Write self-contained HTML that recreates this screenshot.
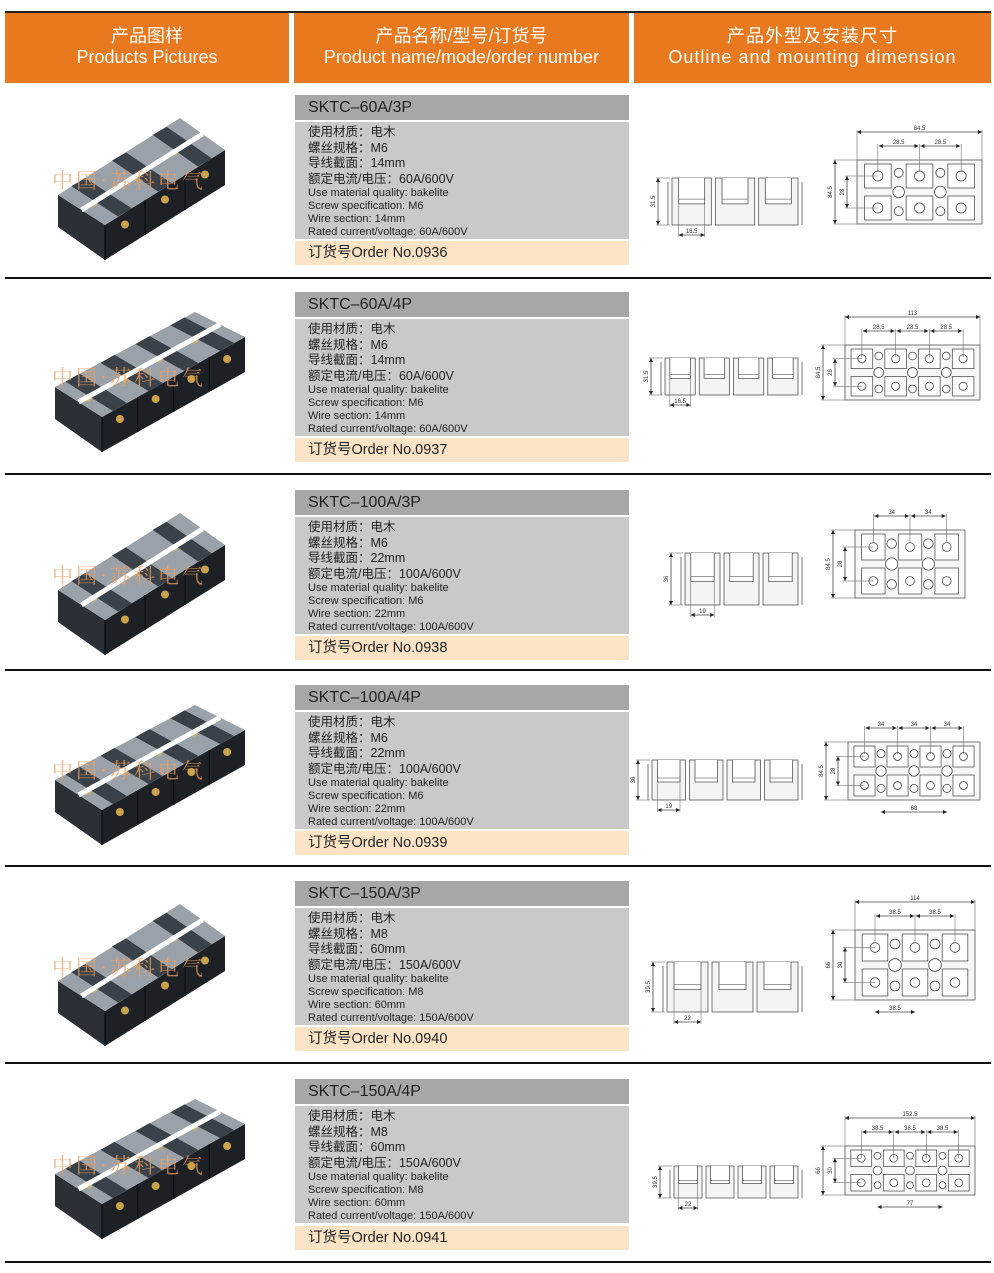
<!DOCTYPE html>
<html><head><meta charset="utf-8">
<style>
body{margin:0;width:994px;height:1273px;position:relative;background:#fff;overflow:hidden;font-family:"Liberation Sans","Noto Sans CJK SC",sans-serif}
.a{position:absolute}
.hd{position:absolute;top:13px;height:70px;background:#e8791f;color:#fff;text-align:center;font-size:18px;line-height:21px;padding-top:13px;box-sizing:border-box}
.sep{position:absolute;left:5px;width:986px;height:2px;background:#111}
.tt{position:absolute;left:295px;width:334px;height:25px;background:#a7a7a7;color:#222;font-size:16px;line-height:26px;padding-left:13px;box-sizing:border-box}
.bd{position:absolute;left:295px;width:334px;height:117px;background:#c9c9c9;color:#222;padding:3px 0 0 13px;box-sizing:border-box}
.bd .c{font-size:12.5px;line-height:15.5px;height:15.5px}
.bd .e{font-size:11px;line-height:13px;height:13px}
.od{position:absolute;left:295px;width:334px;height:24px;background:#fbe3c6;color:#222;font-size:14.5px;line-height:25px;padding-left:13px;box-sizing:border-box}
.wm{position:absolute;left:52px;font-size:21px;color:#f0a060;opacity:.75;letter-spacing:3px;font-family:"Noto Serif CJK SC",serif}
</style></head><body>
<div class="a" style="left:5px;top:11px;width:986px;height:2px;background:#222"></div>
<div class="hd" style="left:5px;width:284px">产品图样<br>Products Pictures</div>
<div class="hd" style="left:294px;width:335px">产品名称/型号/订货号<br>Product name/mode/order number</div>
<div class="hd" style="left:634px;width:357px;letter-spacing:1px">产品外型及安装尺寸<br>Outline and mounting dimension</div>

<svg id="g" class="a" style="left:0;top:0" width="994" height="1273"></svg>

<div class="tt" style="top:95px">SKTC–60A/3P</div>
<div class="bd" style="top:122px"><div class="c">使用材质：电木</div><div class="c">螺丝规格：M6</div><div class="c">导线截面：14mm</div><div class="c">额定电流/电压：60A/600V</div><div class="e">Use material quality: bakelite</div><div class="e">Screw specification: M6</div><div class="e">Wire section: 14mm</div><div class="e">Rated current/voltage: 60A/600V</div></div>
<div class="od" style="top:241px">订货号Order No.0936</div>
<div class="sep" style="top:277px"></div>
<div class="wm" style="top:165px">中国·苏科电气</div>

<div class="tt" style="top:292px">SKTC–60A/4P</div>
<div class="bd" style="top:319px"><div class="c">使用材质：电木</div><div class="c">螺丝规格：M6</div><div class="c">导线截面：14mm</div><div class="c">额定电流/电压：60A/600V</div><div class="e">Use material quality: bakelite</div><div class="e">Screw specification: M6</div><div class="e">Wire section: 14mm</div><div class="e">Rated current/voltage: 60A/600V</div></div>
<div class="od" style="top:438px">订货号Order No.0937</div>
<div class="sep" style="top:473px"></div>
<div class="wm" style="top:362px">中国·苏科电气</div>

<div class="tt" style="top:490px">SKTC–100A/3P</div>
<div class="bd" style="top:517px"><div class="c">使用材质：电木</div><div class="c">螺丝规格：M6</div><div class="c">导线截面：22mm</div><div class="c">额定电流/电压：100A/600V</div><div class="e">Use material quality: bakelite</div><div class="e">Screw specification: M6</div><div class="e">Wire section: 22mm</div><div class="e">Rated current/voltage: 100A/600V</div></div>
<div class="od" style="top:636px">订货号Order No.0938</div>
<div class="sep" style="top:669px"></div>
<div class="wm" style="top:560px">中国·苏科电气</div>

<div class="tt" style="top:685px">SKTC–100A/4P</div>
<div class="bd" style="top:712px"><div class="c">使用材质：电木</div><div class="c">螺丝规格：M6</div><div class="c">导线截面：22mm</div><div class="c">额定电流/电压：100A/600V</div><div class="e">Use material quality: bakelite</div><div class="e">Screw specification: M6</div><div class="e">Wire section: 22mm</div><div class="e">Rated current/voltage: 100A/600V</div></div>
<div class="od" style="top:831px">订货号Order No.0939</div>
<div class="sep" style="top:865px"></div>
<div class="wm" style="top:755px">中国·苏科电气</div>

<div class="tt" style="top:881px">SKTC–150A/3P</div>
<div class="bd" style="top:908px"><div class="c">使用材质：电木</div><div class="c">螺丝规格：M8</div><div class="c">导线截面：60mm</div><div class="c">额定电流/电压：150A/600V</div><div class="e">Use material quality: bakelite</div><div class="e">Screw specification: M8</div><div class="e">Wire section: 60mm</div><div class="e">Rated current/voltage: 150A/600V</div></div>
<div class="od" style="top:1027px">订货号Order No.0940</div>
<div class="sep" style="top:1062px"></div>
<div class="wm" style="top:952px">中国·苏科电气</div>

<div class="tt" style="top:1079px">SKTC–150A/4P</div>
<div class="bd" style="top:1106px"><div class="c">使用材质：电木</div><div class="c">螺丝规格：M8</div><div class="c">导线截面：60mm</div><div class="c">额定电流/电压：150A/600V</div><div class="e">Use material quality: bakelite</div><div class="e">Screw specification: M8</div><div class="e">Wire section: 60mm</div><div class="e">Rated current/voltage: 150A/600V</div></div>
<div class="od" style="top:1226px">订货号Order No.0941</div>
<div class="sep" style="top:1261px"></div>
<div class="wm" style="top:1150px">中国·苏科电气</div>

<script>
(function(){
var s='';
function L(x1,y1,x2,y2,c,w){s+='<line x1="'+x1+'" y1="'+y1+'" x2="'+x2+'" y2="'+y2+'" stroke="'+(c||'#444')+'" stroke-width="'+(w||0.8)+'"/>';}
function T(x,y,t,r){s+='<text x="'+x+'" y="'+y+'" font-size="6" fill="#333" font-family="Liberation Sans"'+(r?' transform="rotate(-90 '+x+' '+y+')"':'')+' text-anchor="middle">'+t+'</text>';}
function HD(x1,x2,y,t){L(x1,y,x2,y);s+='<path d="M'+x1+' '+y+'l4 -2v4zM'+x2+' '+y+'l-4 -2v4z" fill="#222"/>';if(t)T((x1+x2)/2,y-2,t);}
function VD(x,y1,y2,t){L(x,y1,x,y2);s+='<path d="M'+x+' '+y1+'l-2 4h4zM'+x+' '+y2+'l-2 -4h4z" fill="#222"/>';T(x-3,(y1+y2)/2,t,1);}
function P(a){return a.map(function(p){return p[0]+','+p[1];}).join(' ');}
function photo(t,n){
 var ox=55, oy=t;
 var A=[ox+3,oy+100],B=[ox+125,oy+23],C=[ox+170,oy+55],D=[ox+50,oy+130],hh=35,hl=32;
 if(n==4){A=[ox,oy+95];B=[ox+140,oy+20];C=[ox+190,oy+45];D=[ox+47,oy+125];}
 s+='<polygon points="'+P([A,D,[D[0],D[1]+hh],[A[0],A[1]+hl]])+'" fill="#2b3036"/>';
 s+='<polygon points="'+P([D,C,[C[0],C[1]+hh],[D[0],D[1]+hh]])+'" fill="#1d2126"/>';
 s+='<polygon points="'+P([A,B,C,D])+'" fill="#9aa1a8"/>';
 for(var i=0;i<n;i++){var f=(i+0.5)/n;var bx=A[0]+(B[0]-A[0])*f,by=A[1]+(B[1]-A[1])*f;var dx=D[0]+(C[0]-D[0])*f,dy=D[1]+(C[1]-D[1])*f;
  s+='<polygon points="'+(bx-7)+','+(by+4)+' '+(bx+7)+','+(by-4)+' '+(dx+7)+','+(dy-4)+' '+(dx-7)+','+(dy+4)+'" fill="#30363d" opacity=".9"/>';
  s+='<line x1="'+(D[0]+(C[0]-D[0])*i/n)+'" y1="'+(D[1]+(C[1]-D[1])*i/n)+'" x2="'+(D[0]+(C[0]-D[0])*i/n)+'" y2="'+(D[1]+(C[1]-D[1])*i/n+hh)+'" stroke="#0e1114" stroke-width="1.5"/>';
  s+='<circle cx="'+dx+'" cy="'+(dy+12)+'" r="4" fill="#c9a24a"/>';
  s+='<circle cx="'+((bx+dx)/2-8)+'" cy="'+((by+dy)/2+6)+'" r="3.5" fill="#c9b070"/>';}
 s+='<line x1="'+((A[0]+D[0])/2)+'" y1="'+((A[1]+D[1])/2)+'" x2="'+((B[0]+C[0])/2)+'" y2="'+((B[1]+C[1])/2)+'" stroke="#fff" stroke-width="5"/>';
}
function side(n,x0,x1,y0,y1,lab,dl){
 var w=(x1-x0)/n,h=y1-y0;
 for(var i=0;i<n;i++){var x=x0+i*w;
  s+='<rect x="'+(x+2)+'" y="'+y0+'" width="'+(w-4)+'" height="'+h+'" fill="#f4f4f4" stroke="#555" stroke-width="0.8"/>';
  s+='<path d="M'+(x+w*0.2)+' '+y0+'V'+(y0+h*0.55)+'H'+(x+w*0.8)+'V'+y0+'" fill="#fff" stroke="#555" stroke-width="0.8"/>';
  L(x+w*0.2,y0+h*0.45,x+w*0.8,y0+h*0.45,'#777');}
 L(x0-2,y0+4,x0-2,y1,'#555');L(x1+2,y0+4,x1+2,y1,'#555');
 VD(x0-12,y0,y1,lab);L(x0-14,y0,x0,y0,'#555',0.5);L(x0-14,y1,x0,y1,'#555',0.5);
 HD(x0+w*0.2,x0+w*0.8,y1+10,dl);L(x0+w*0.2,y0+h*0.5,x0+w*0.2,y1+12,'#555',0.5);L(x0+w*0.8,y0+h*0.5,x0+w*0.8,y1+12,'#555',0.5);
}
function topv(n,x0,x1,y0,y1,tot,sub,vh,vi,bot){
 var w=(x1-x0)/n,h=y1-y0,b=0;
 s+='<rect x="'+x0+'" y="'+y0+'" width="'+(x1-x0)+'" height="'+h+'" fill="#f7f7f7" stroke="#555" stroke-width="0.8"/>';
 for(var i=0;i<n;i++){var x=x0+i*w;
  for(var j=0;j<2;j++){var yy=y0+4+j*h/2;
   s+='<rect x="'+(x+w*0.18)+'" y="'+yy+'" width="'+(w*0.64)+'" height="'+(h/2-8)+'" fill="#fff" stroke="#555" stroke-width="0.8"/>';
   s+='<circle cx="'+(x+w/2)+'" cy="'+(yy+(h/2-8)/2)+'" r="'+(Math.min(w,h)*0.12)+'" fill="none" stroke="#444" stroke-width="0.8"/>';}
  if(i>0){s+='<circle cx="'+x+'" cy="'+(y0+h/2)+'" r="'+(h*0.09)+'" fill="#fff" stroke="#444" stroke-width="0.8"/><circle cx="'+x+'" cy="'+(y0+h*0.2)+'" r="'+(h*0.07)+'" fill="#fff" stroke="#444" stroke-width="0.8"/><circle cx="'+x+'" cy="'+(y0+h*0.8)+'" r="'+(h*0.07)+'" fill="#fff" stroke="#444" stroke-width="0.8"/>';}
 }
 if(tot){HD(x0,x1,y0-28,tot);L(x0,y0-30,x0,y0,'#555',0.5);L(x1,y0-30,x1,y0,'#555',0.5);}
 for(var i=0;i<n-1;i++){var a=x0+w*(i+0.5);b=x0+w*(i+1.5);HD(a+1,b-1,y0-14,sub);L(a,y0-16,a,y0+12,'#555',0.5);}
 L(b,y0-16,b,y0+12,'#555',0.5);
 VD(x0-22,y0,y1,vh);L(x0-24,y0,x0,y0,'#555',0.5);L(x0-24,y1,x0,y1,'#555',0.5);
 VD(x0-10,y0+h*0.25,y0+h*0.75,vi);L(x0-12,y0+h*0.25,x0+w*0.5,y0+h*0.25,'#555',0.5);L(x0-12,y0+h*0.75,x0+w*0.5,y0+h*0.75,'#555',0.5);
 if(bot){HD(x0+w*(n==4?1:0.5),x0+w*(n==4?3:1.5),y1+12,bot);}
}
photo(95,3);photo(292,4);photo(490,3);photo(685,4);photo(881,3);photo(1079,4);
side(3,670,800,178,225,'31.5','16.5');topv(3,857,982,160,224,'84.5','28.5','84.5','28');
side(4,663,800,358,395,'31.5','16.5');topv(4,845,980,345,400,'113','28.5','84.5','28');
side(3,683,800,553,605,'36','19');topv(3,855,965,530,598,'','34','84.5','28');
side(4,650,800,760,800,'36','19');topv(4,848,980,742,800,'','34','84.5','28','68');
side(3,665,800,962,1012,'39.5','22');topv(3,855,975,930,1000,'114','38.5','66','30','38.5');
side(4,672,800,1166,1198,'39.5','22');topv(4,845,975,1146,1195,'152.5','38.5','66','30','77');
document.getElementById('g').innerHTML=s;
})();
</script>
</body></html>
